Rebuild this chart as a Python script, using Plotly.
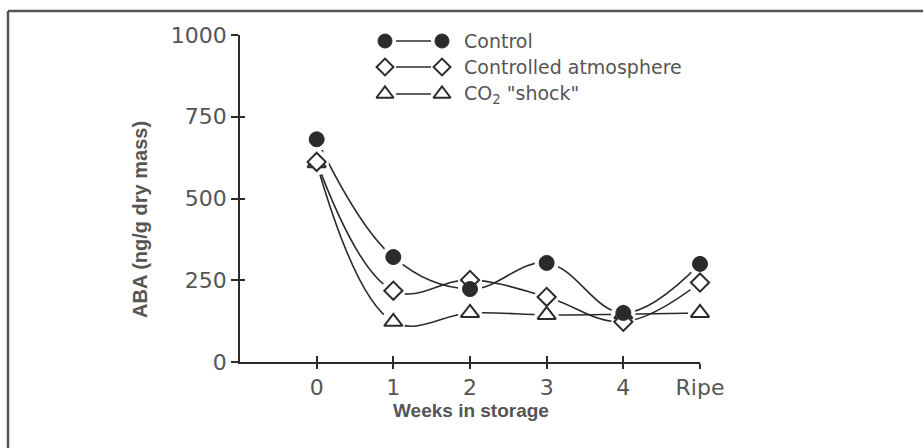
import plotly.graph_objects as go

weeks = ["0", "1", "2", "3", "4", "Ripe"]
control = [681, 321, 223, 303, 150, 300]
controlled_atmosphere = [612, 218, 251, 199, 123, 243]
co2_shock = [608, 123, 150, 144, 146, 150]
y_ticks = [0, 250, 500, 750, 1000]

INK = "#2b2b2b"
TXT = "#555555"

fig = go.Figure()

series = [
    ("Control", control, dict(symbol="circle", size=15, color=INK, line=dict(color=INK, width=1))),
    ("Controlled atmosphere", controlled_atmosphere, dict(symbol="diamond", size=14, color="white", line=dict(color=INK, width=2))),
    ("CO<sub>2</sub> \"shock\"", co2_shock, dict(symbol="triangle-up", size=16, color="white", line=dict(color=INK, width=2))),
]

# lines
for name, vals, mk in series:
    fig.add_trace(go.Scatter(x=weeks, y=vals, mode="lines", line=dict(color=INK, width=1.6, shape="spline", smoothing=1.1),
                             showlegend=False, hoverinfo="skip"))
# halos to create gaps
for name, vals, mk in series:
    fig.add_trace(go.Scatter(x=weeks, y=vals, mode="markers", marker=dict(symbol="circle", size=24, color="white"),
                             showlegend=False, hoverinfo="skip", cliponaxis=False))
# markers (triangle, diamond, circle order)
for name, vals, mk in reversed(series):
    fig.add_trace(go.Scatter(x=weeks, y=vals, mode="markers", marker=mk, name=name, showlegend=False, cliponaxis=False))

# custom legend on an auxiliary pixel-coordinate axis
rows = [41, 67, 94]
for (name, vals, mk), ry in zip(series, rows):
    fig.add_trace(go.Scatter(x=[396, 431], y=[ry, ry], mode="lines", line=dict(color=INK, width=1.6),
                             xaxis="x3", yaxis="y3", showlegend=False, hoverinfo="skip"))
    mk2 = dict(mk)
    mk2["size"] = mk["size"] - 1
    fig.add_trace(go.Scatter(x=[385, 442], y=[ry, ry], mode="markers", marker=mk2,
                             xaxis="x3", yaxis="y3", showlegend=False, hoverinfo="skip", cliponaxis=False))
    fig.add_annotation(x=462, y=ry, xref="x3", yref="y3", text=name, showarrow=False, xanchor="left", yanchor="middle",
                       font=dict(family="DejaVu Sans", size=19, color=TXT))

# invisible trace for overlay tick axes
fig.add_trace(go.Scatter(x=[0], y=[0], xaxis="x2", yaxis="y2", mode="markers", marker=dict(opacity=0), showlegend=False, hoverinfo="skip"))

tickfont = dict(family="DejaVu Sans", size=22, color=TXT)
fig.update_layout(
    width=923, height=448,
    margin=dict(l=240, r=223, t=35, b=86),
    paper_bgcolor="white", plot_bgcolor="white",
    showlegend=False,
    xaxis=dict(type="category", range=[-1, 5], showgrid=False, zeroline=False, showline=True, linecolor=INK, linewidth=1.5,
               ticks="outside", ticklen=5, tickwidth=1.5, tickcolor=INK, tickfont=tickfont, ticklabelstandoff=0),
    yaxis=dict(range=[0, 1000], tickvals=y_ticks, showgrid=False, zeroline=False, showline=True, linecolor=INK, linewidth=1.5,
               ticks="outside", ticklen=7, tickwidth=1.5, tickcolor=INK, tickfont=tickfont, ticklabelstandoff=0),
    xaxis2=dict(overlaying="x", anchor="y2", range=[-1, 5], tickvals=list(range(len(weeks))), ticks="inside", ticklen=6,
                tickwidth=1.5, tickcolor=INK, showticklabels=False, showgrid=False, zeroline=False, showline=False),
    yaxis2=dict(overlaying="y", anchor="x2", range=[0, 1000], tickvals=y_ticks, ticks="inside", ticklen=5,
                tickwidth=1.5, tickcolor=INK, showticklabels=False, showgrid=False, zeroline=False, showline=False),
    xaxis3=dict(domain=[0, 1], anchor="y3", range=[240, 700], visible=False, overlaying="x"),
    yaxis3=dict(domain=[0, 1], anchor="x3", range=[362, 35], visible=False, overlaying="y"),
)

# axis titles
fig.add_annotation(x=(471 - 240) / 460, y=(362 - 410) / 327, xref="paper", yref="paper", text="<b>Weeks in storage</b>",
                   showarrow=False, xanchor="center", yanchor="middle",
                   font=dict(family="Liberation Sans", size=19, color=TXT))
fig.add_annotation(x=(140 - 240) / 460, y=(362 - 220) / 327, xref="paper", yref="paper", text="<b>ABA (ng/g dry mass)</b>",
                   showarrow=False, textangle=-90, xanchor="center", yanchor="middle",
                   font=dict(family="Liberation Sans", size=20, color=TXT))

# frame (top and left borders)
fig.add_shape(type="line", xref="paper", yref="paper", x0=(8 - 240) / 460, x1=(930 - 240) / 460,
              y0=(362 - 11) / 327, y1=(362 - 11) / 327, line=dict(color="#555555", width=2.5))
fig.add_shape(type="line", xref="paper", yref="paper", x0=(8 - 240) / 460, x1=(8 - 240) / 460,
              y0=(362 - 11) / 327, y1=(362 - 460) / 327, line=dict(color="#555555", width=2.5))

fig.write_html("out.html", config={"displayModeBar": False},
               post_script="document.body.style.margin='0';document.body.style.overflow='hidden';")
